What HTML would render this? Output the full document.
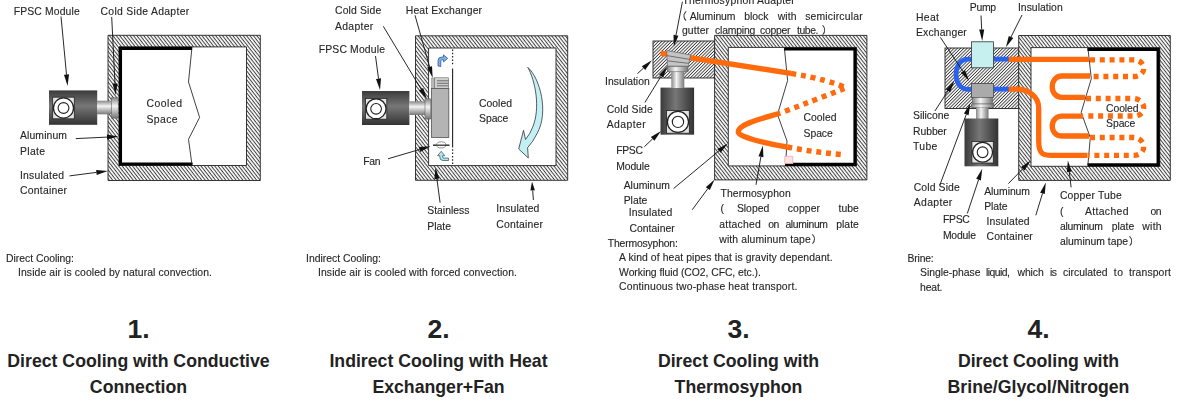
<!DOCTYPE html>
<html><head><meta charset="utf-8"><title>Cooling methods</title>
<style>
html,body{margin:0;padding:0;background:#fff;}
body{width:1200px;height:401px;overflow:hidden;position:relative;font-family:"Liberation Sans",sans-serif;}
svg{position:absolute;left:0;top:0;filter:blur(0.55px);}
.t{font-family:"Liberation Sans","IPAGothic",sans-serif;font-size:10.4px;fill:#262626;stroke:#262626;stroke-width:0.12px;}
.cap{position:absolute;width:300px;text-align:center;font-weight:bold;color:#222;font-size:17.7px;line-height:25.9px;}
.num{position:absolute;width:300px;text-align:center;font-weight:bold;color:#222;font-size:26.5px;line-height:28px;}
</style></head><body>
<svg id="dia" width="1200" height="401" viewBox="0 0 1200 401">
<defs>
<pattern id="h1" width="4" height="2.7" patternUnits="userSpaceOnUse" patternTransform="rotate(52)"><rect width="4" height="2.7" fill="#fff"/><rect width="4" height="1.02" fill="#404040"/></pattern>
<pattern id="h2" width="4" height="2.3" patternUnits="userSpaceOnUse" patternTransform="rotate(-45)"><rect width="4" height="2.3" fill="#fff"/><rect width="4" height="0.85" fill="#333"/></pattern>
<linearGradient id="gv" x1="0" y1="0" x2="0" y2="1"><stop offset="0" stop-color="#3a3a3a"/><stop offset="0.45" stop-color="#777"/><stop offset="1" stop-color="#333"/></linearGradient>
<linearGradient id="gh" x1="0" y1="0" x2="1" y2="0"><stop offset="0" stop-color="#3a3a3a"/><stop offset="0.45" stop-color="#777"/><stop offset="1" stop-color="#333"/></linearGradient>
<linearGradient id="cv" x1="0" y1="0" x2="0" y2="1"><stop offset="0" stop-color="#888"/><stop offset="0.4" stop-color="#f4f4f4"/><stop offset="1" stop-color="#777"/></linearGradient>
<linearGradient id="ch" x1="0" y1="0" x2="1" y2="0"><stop offset="0" stop-color="#888"/><stop offset="0.4" stop-color="#f4f4f4"/><stop offset="1" stop-color="#777"/></linearGradient>
</defs>

<g id="d1">
<path d="M108,35.3H260.3V180.5H108Z M119,46.9V165.5H246.5V46.9Z" fill="url(#h1)" fill-rule="evenodd" stroke="#222" stroke-width="0.9"/>
<path d="M192,48.4H120.5V164H192.5" fill="none" stroke="#000" stroke-width="3.1"/>
<polyline points="192,47 188.5,82 199.6,117.4 188.5,139.3 192,165" fill="none" stroke="#111" stroke-width="0.8"/>
<rect x="49" y="90.4" width="48.2" height="34.39999999999999" fill="url(#gv)"/>
<rect x="52.7" y="97.2" width="21.599999999999994" height="21.599999999999994" fill="#e4e4e4" stroke="#222" stroke-width="0.8"/>
<circle cx="63.5" cy="108.0" r="10.04" fill="#fff" stroke="#222" stroke-width="1.3"/>
<circle cx="63.5" cy="108.0" r="5.40" fill="#fff" stroke="#222" stroke-width="1.1"/>
<rect x="97" y="100.7" width="14.5" height="13.6" fill="url(#cv)"/>
<rect x="111.4" y="97.8" width="6.8" height="20.3" fill="url(#cv)" stroke="#555" stroke-width="0.5"/>
<text class="t" x="13.7" y="14.65" textLength="66">FPSC Module</text>
<text class="t" x="100.5" y="14.65" textLength="88.7">Cold Side Adapter</text>
<line x1="61" y1="16.5" x2="66.5" y2="74.6" stroke="#111" stroke-width="0.9"/>
<polygon points="67.6,86 64.0,74.8 69.0,74.3" fill="#111"/>
<line x1="111.7" y1="17" x2="115.0" y2="83.5" stroke="#111" stroke-width="0.9"/>
<polygon points="115.6,95 112.5,83.6 117.5,83.4" fill="#111"/>
<text class="t" x="20" y="138.95" textLength="47">Aluminum</text>
<text class="t" x="20" y="154.85" textLength="25">Plate</text>
<text class="t" x="20" y="178.85" textLength="44">Insulated</text>
<text class="t" x="20" y="194.35" textLength="47">Container</text>
<line x1="75.8" y1="138.6" x2="107.0" y2="137.1" stroke="#111" stroke-width="0.9"/>
<polygon points="118.5,136.5 107.1,139.6 106.9,134.6" fill="#111"/>
<line x1="69.5" y1="175.9" x2="96.4" y2="172.4" stroke="#111" stroke-width="0.9"/>
<polygon points="107.8,170.9 96.7,174.9 96.1,169.9" fill="#111"/>
<text class="t" x="146.5" y="107.35" textLength="35.5">Cooled</text>
<text class="t" x="146.5" y="123.35" textLength="31">Space</text>
<text class="t" x="6" y="261.85" textLength="68">Direct Cooling:</text>
<text class="t" x="18" y="276.35" textLength="194">Inside air is cooled by natural convection.</text>
</g>
<g id="d2">
<path d="M415.5,35.8H567.7V180.3H415.5Z M428.6,48V165.6H556V48Z" fill="url(#h1)" fill-rule="evenodd" stroke="#222" stroke-width="0.9"/>
<rect x="362" y="91" width="47.39999999999998" height="34" fill="url(#gv)"/>
<rect x="365.4" y="98.4" width="21.400000000000034" height="20.799999999999997" fill="#e4e4e4" stroke="#222" stroke-width="0.8"/>
<circle cx="376.1" cy="108.80000000000001" r="9.95" fill="#fff" stroke="#222" stroke-width="1.3"/>
<circle cx="376.1" cy="108.80000000000001" r="5.35" fill="#fff" stroke="#222" stroke-width="1.1"/>
<rect x="409.3" y="101.3" width="16" height="13.7" fill="url(#cv)"/>
<rect x="425" y="98.8" width="5.7" height="20.3" fill="url(#cv)" stroke="#555" stroke-width="0.5"/>
<rect x="431.6" y="78" width="3" height="10.5" fill="#b8b8b8" stroke="#666" stroke-width="0.4"/>
<rect x="434.5" y="77.8" width="14.2" height="10.7" fill="#cfcfcf" stroke="#555" stroke-width="0.5"/>
<line x1="437" y1="80.8" x2="448.5" y2="80.8" stroke="#444" stroke-width="0.7"/>
<line x1="437" y1="83.3" x2="448.5" y2="83.3" stroke="#444" stroke-width="0.7"/>
<line x1="437" y1="85.8" x2="448.5" y2="85.8" stroke="#444" stroke-width="0.7"/>
<rect x="431.5" y="88.5" width="17.3" height="49" fill="#b4b4b4" stroke="#555" stroke-width="0.8"/>
<line x1="452.6" y1="68.5" x2="452.6" y2="147.6" stroke="#222" stroke-width="1.1"/>
<line x1="452.6" y1="49.5" x2="452.6" y2="66" stroke="#222" stroke-width="1.2" stroke-dasharray="1.5,1.8"/>
<line x1="452.6" y1="149.3" x2="452.6" y2="164.5" stroke="#222" stroke-width="1.2" stroke-dasharray="1.5,1.8"/>
<path d="M433,145.2H449.5" stroke="#333" stroke-width="1.5" fill="none"/>
<ellipse cx="441.2" cy="144.9" rx="4.6" ry="3.1" fill="#fff" stroke="#666" stroke-width="0.7"/>
<path d="M436.5,145.2H446" stroke="#333" stroke-width="1.3" fill="none"/>
<path d="M438,66V60.5q0,-3.5 4,-3.5h1.5v-2.2l4.2,3.6l-4.2,3.6v-2.2h-1.3q-1.4,0 -1.4,1.4v5.3z" fill="#7ab0ee" stroke="#2a4a80" stroke-width="0.7"/>
<path d="M448.5,160.5h-5.5q-3.2,0 -3.2,-3.5v-1.3h-2.2l3.6,-4.4l3.6,4.4h-2.2v1.2q0,1.2 1.4,1.2h4.5z" fill="#b5e4ec" stroke="#2a5060" stroke-width="0.7"/>
<path d="M527.8,67.4 C540,78 549,112 537.2,133.3 Q533,142 527.6,147.7 L528.3,158 L518.7,149 L523.5,130.3 L525.5,139.5 Q530,134 532.4,127.8 C541,108 535,80 527.8,67.4 Z" fill="#c3f0f4" stroke="#333" stroke-width="0.8" stroke-linejoin="miter"/>
<text class="t" x="335" y="14.15" textLength="46.2">Cold Side</text>
<text class="t" x="335" y="29.65" textLength="38.3">Adapter</text>
<text class="t" x="405.8" y="14.15" textLength="76.2">Heat Exchanger</text>
<text class="t" x="318.7" y="52.65" textLength="66.3">FPSC Module</text>
<text class="t" x="363.3" y="164.65" textLength="17.3">Fan</text>
<text class="t" x="427.2" y="214.05" textLength="42.3">Stainless</text>
<text class="t" x="427.2" y="229.65" textLength="23.8">Plate</text>
<text class="t" x="496.3" y="212.15" textLength="43.1">Insulated</text>
<text class="t" x="496.3" y="227.85" textLength="46.7">Container</text>
<line x1="383.3" y1="26.3" x2="421.1" y2="89.1" stroke="#111" stroke-width="0.9"/>
<polygon points="427,99 418.9,90.4 423.2,87.9" fill="#111"/>
<line x1="415" y1="15.3" x2="429.6" y2="66.9" stroke="#111" stroke-width="0.9"/>
<polygon points="432.7,78 427.2,67.6 432.0,66.3" fill="#111"/>
<line x1="375.5" y1="56" x2="378.5" y2="78.6" stroke="#111" stroke-width="0.9"/>
<polygon points="380,90 376.0,78.9 381.0,78.3" fill="#111"/>
<line x1="388" y1="158.8" x2="419.5" y2="149.5" stroke="#111" stroke-width="0.9"/>
<polygon points="430.5,146.3 420.2,151.9 418.8,147.1" fill="#111"/>
<line x1="440.1" y1="202.7" x2="436.9" y2="178.9" stroke="#111" stroke-width="0.9"/>
<polygon points="435.4,167.5 439.4,178.6 434.4,179.2" fill="#111"/>
<line x1="533.4" y1="200" x2="532.7" y2="190.5" stroke="#111" stroke-width="0.9"/>
<polygon points="532,181.5 534.9,190.3 530.4,190.6" fill="#111"/>
<text class="t" x="479" y="106.65" textLength="33">Cooled</text>
<text class="t" x="479" y="122.35" textLength="29.3">Space</text>
<text class="t" x="306" y="261.85" textLength="75">Indirect Cooling:</text>
<text class="t" x="318" y="276.35" textLength="199">Inside air is cooled with forced convection.</text>
</g>
<g id="d3">
<rect x="653" y="41" width="62" height="37" fill="url(#h2)" stroke="#222" stroke-width="0.9"/>
<path d="M714.6,35.4H866.9V179.9H714.6Z M728.3,47.4V165.9H856.6V47.4Z" fill="url(#h1)" fill-rule="evenodd" stroke="#222" stroke-width="0.9"/>
<path d="M784,49H855V164.3H785" fill="none" stroke="#000" stroke-width="3.2"/>
<polyline points="784.4,48 787.6,80.5 777.5,114.5 787,141 785.6,165" fill="none" stroke="#111" stroke-width="0.8"/>
<rect x="784.8" y="156.3" width="8" height="7.3" fill="#fbe3e3" stroke="#efb0b0" stroke-width="0.8"/>
<path d="M660.6,53.2L791,73.4" fill="none" stroke="#ff6a0d" stroke-width="5.4"/>
<path d="M791,73.4Q830,80 846,88Q815,100 777.5,114" fill="none" stroke="#ff6a0d" stroke-width="5.4" stroke-dasharray="5,4.8"/>
<path d="M777.5,114C760,119 738.3,124.3 738.3,132C738.3,137.3 765,143 787.3,147" fill="none" stroke="#ff6a0d" stroke-width="5.4"/>
<path d="M787.3,147Q815,152.3 844,154.8" fill="none" stroke="#ff6a0d" stroke-width="5.4" stroke-dasharray="5,4.8"/>
<rect x="660.5" y="87.6" width="33.60000000000002" height="47.099999999999994" fill="url(#gh)"/>
<rect x="666.6" y="110.6" width="22.699999999999932" height="22.599999999999994" fill="#e4e4e4" stroke="#222" stroke-width="0.8"/>
<circle cx="677.95" cy="121.89999999999999" r="10.56" fill="#fff" stroke="#222" stroke-width="1.3"/>
<circle cx="677.95" cy="121.89999999999999" r="5.67" fill="#fff" stroke="#222" stroke-width="1.1"/>
<rect x="671.3" y="71" width="13" height="17" fill="url(#ch)"/>
<rect x="667.4" y="66.2" width="20.6" height="5.6" fill="url(#ch)" stroke="#555" stroke-width="0.5"/>
<polygon points="666.8,50.6 690.5,54.9 688.3,66.2 667.4,66.2" fill="#c4c4c4" stroke="#555" stroke-width="0.6"/>
<path d="M666.9,55.6L689.8,59.4 M667.1,60.8L689,63.4" stroke="#666" stroke-width="0.9" fill="none"/>
<text class="t" x="682.4" y="4.05" textLength="112.4">Thermosyphon Adapter</text>
<text class="t" x="676.7" y="19.65">（</text>
<text class="t" x="689.7" y="19.65" textLength="45.8">Aluminum</text>
<text class="t" x="744.3" y="19.65" textLength="24.2">block</text>
<text class="t" x="777.7" y="19.65" textLength="18.9">with</text>
<text class="t" x="805.2" y="19.65" textLength="57.4">semicircular</text>
<text class="t" x="682" y="34.25" textLength="27">gutter</text>
<text class="t" x="715" y="34.25" textLength="40.3">clamping</text>
<text class="t" x="760" y="34.25" textLength="30.5">copper</text>
<text class="t" x="797" y="34.25" textLength="21.5">tube.</text>
<text class="t" x="821.5" y="34.25">）</text>
<text class="t" x="605" y="85.25" textLength="44.8">Insulation</text>
<text class="t" x="606.7" y="113.35" textLength="46.1">Cold Side</text>
<text class="t" x="606.7" y="127.85" textLength="38.9">Adapter</text>
<text class="t" x="616.2" y="153.75" textLength="26.7">FPSC</text>
<text class="t" x="616.2" y="169.75" textLength="33.6">Module</text>
<text class="t" x="623.7" y="188.95" textLength="46.1">Aluminum</text>
<text class="t" x="623.7" y="203.95" textLength="23.6">Plate</text>
<text class="t" x="628.7" y="215.85" textLength="43.6">Insulated</text>
<text class="t" x="629.4" y="231.85" textLength="45.4">Container</text>
<text class="t" x="607.8" y="246.65" textLength="70">Thermosyphon:</text>
<text class="t" x="619.1" y="261.25" textLength="213.5">A kind of heat pipes that is gravity dependant.</text>
<text class="t" x="619.1" y="275.65" textLength="141.7">Working fluid (CO2, CFC, etc.).</text>
<text class="t" x="619.1" y="290.35" textLength="178.2">Continuous two-phase heat transport.</text>
<text class="t" x="720.5" y="196.85" textLength="70.2">Thermosyphon</text>
<text class="t" x="720.5" y="212.35" textLength="3.5">(</text>
<text class="t" x="736.9" y="212.35" textLength="32.3">Sloped</text>
<text class="t" x="787.7" y="212.35" textLength="32.3">copper</text>
<text class="t" x="838.6" y="212.35" textLength="20.3">tube</text>
<text class="t" x="719.3" y="227.55" textLength="41.5">attached</text>
<text class="t" x="768.3" y="227.55" textLength="11.1">on</text>
<text class="t" x="785.4" y="227.55" textLength="42.6">aluminum</text>
<text class="t" x="836.2" y="227.55" textLength="22.7">plate</text>
<text class="t" x="719.3" y="242.65" textLength="91.5">with aluminum tape</text>
<text class="t" x="811.3" y="242.65">）</text>
<line x1="682.4" y1="1.8" x2="676.0" y2="35.2" stroke="#111" stroke-width="0.9"/>
<polygon points="673.8,46.5 673.5,34.7 678.4,35.7" fill="#111"/>
<line x1="637.4" y1="73.7" x2="643.5" y2="68.1" stroke="#111" stroke-width="0.9"/>
<polygon points="652,60.3 645.2,69.9 641.8,66.2" fill="#111"/>
<line x1="644.9" y1="102.4" x2="661.2" y2="76.0" stroke="#111" stroke-width="0.9"/>
<polygon points="667.3,66.2 663.4,77.3 659.1,74.7" fill="#111"/>
<line x1="644.4" y1="146.7" x2="652.6" y2="138.9" stroke="#111" stroke-width="0.9"/>
<polygon points="661,131 654.4,140.7 650.9,137.1" fill="#111"/>
<line x1="673.5" y1="188.6" x2="719.0" y2="150.8" stroke="#111" stroke-width="0.9"/>
<polygon points="727.8,143.5 720.6,152.8 717.4,148.9" fill="#111"/>
<line x1="692.2" y1="209.8" x2="707.8" y2="188.7" stroke="#111" stroke-width="0.9"/>
<polygon points="714.6,179.4 709.8,190.1 705.8,187.2" fill="#111"/>
<line x1="756" y1="184.8" x2="760.9" y2="156.7" stroke="#111" stroke-width="0.9"/>
<polygon points="762.9,145.4 763.4,157.2 758.5,156.3" fill="#111"/>
<text class="t" x="803.5" y="121.35" textLength="33">Cooled</text>
<text class="t" x="803.5" y="137.05" textLength="29.3">Space</text>
</g>
<g id="d4">
<rect x="945" y="48" width="74" height="60.5" fill="url(#h2)" stroke="#222" stroke-width="0.9"/>
<path d="M1018.7,35.5H1170.3V180.4H1018.7Z M1031,47.6V166.3H1159.8V47.6Z" fill="url(#h1)" fill-rule="evenodd" stroke="#222" stroke-width="0.9"/>
<path d="M1087.5,49.3H1158.2V164.8H1087.5" fill="none" stroke="#000" stroke-width="3.3"/>
<polyline points="1087.9,48 1091.3,78.7 1081.2,112.4 1090.3,137.6 1087.9,165" fill="none" stroke="#111" stroke-width="0.8"/>
<path d="M971.5,59.2H968C952,59.2 952,89.3 968,89.3H971.5" fill="none" stroke="#2a62f0" stroke-width="4.7"/>
<path d="M993.4,59.2H1009 M993.4,89.2H1009" fill="none" stroke="#2a62f0" stroke-width="4.7"/>
<path d="M1008.7,59.4H1089" fill="none" stroke="#ff6a0d" stroke-width="5.3"/>
<path d="M1008.7,89.2H1016C1028,89.2 1038.7,96 1038.7,108V141C1038.7,155.3 1044,155.3 1052,155.3H1087.5" fill="none" stroke="#ff6a0d" stroke-width="5.3"/>
<path d="M1090,76H1062C1049,76 1049,97.3 1062,97.3H1085" fill="none" stroke="#ff6a0d" stroke-width="5.3"/>
<path d="M1083,116.2H1062C1049,116.2 1049,136 1062,136H1089" fill="none" stroke="#ff6a0d" stroke-width="5.3"/>
<path d="M1090,59.8H1134C1147,60.5 1147,76.5 1134,76.5H1091" fill="none" stroke="#ff6a0d" stroke-width="5.3" stroke-dasharray="5,4.8"/>
<path d="M1086,98.5H1134C1147,99.8 1147,116 1134,116H1084" fill="none" stroke="#ff6a0d" stroke-width="5.3" stroke-dasharray="5,4.8"/>
<path d="M1090,137.5H1134C1147,138.6 1147,155.3 1134,155.3H1088" fill="none" stroke="#ff6a0d" stroke-width="5.3" stroke-dasharray="5,4.8"/>
<rect x="971.5" y="41.8" width="22" height="26" fill="#c6f0f0" stroke="#333" stroke-width="0.8"/>
<rect x="971.5" y="83.5" width="22" height="14" fill="#aaa" stroke="#444" stroke-width="0.8"/>
<rect x="972.5" y="97.5" width="20" height="6.5" fill="url(#ch)" stroke="#555" stroke-width="0.5"/>
<rect x="971.5" y="104" width="22.5" height="3.5" fill="url(#ch)" stroke="#555" stroke-width="0.5"/>
<rect x="976" y="107.5" width="12.5" height="11.5" fill="url(#ch)"/>
<rect x="964.5" y="118.5" width="33.799999999999955" height="47.80000000000001" fill="url(#gh)"/>
<rect x="971.9" y="141.5" width="21.399999999999977" height="21.5" fill="#e4e4e4" stroke="#222" stroke-width="0.8"/>
<circle cx="982.5999999999999" cy="152.25" r="9.95" fill="#fff" stroke="#222" stroke-width="1.3"/>
<circle cx="982.5999999999999" cy="152.25" r="5.35" fill="#fff" stroke="#222" stroke-width="1.1"/>
<text class="t" x="969.8" y="10.55" textLength="26.2">Pump</text>
<text class="t" x="1017.9" y="10.55" textLength="44.8">Insulation</text>
<text class="t" x="916" y="21.05" textLength="23">Heat</text>
<text class="t" x="916" y="35.95" textLength="50.8">Exchanger</text>
<text class="t" x="913" y="119.35" textLength="36.3">Silicone</text>
<text class="t" x="913" y="134.65" textLength="33.8">Rubber</text>
<text class="t" x="913" y="150.05" textLength="24.4">Tube</text>
<text class="t" x="913.7" y="191.45" textLength="46.1">Cold Side</text>
<text class="t" x="913.7" y="205.85" textLength="38.6">Adapter</text>
<text class="t" x="984.2" y="195.25" textLength="45.8">Aluminum</text>
<text class="t" x="984.2" y="210.15" textLength="23.4">Plate</text>
<text class="t" x="942.9" y="223.35" textLength="26.9">FPSC</text>
<text class="t" x="942.9" y="238.85" textLength="33.1">Module</text>
<text class="t" x="986.5" y="224.65" textLength="43.1">Insulated</text>
<text class="t" x="986.5" y="240.05" textLength="46.3">Container</text>
<text class="t" x="1059.9" y="199.45" textLength="61.8">Copper Tube</text>
<text class="t" x="1060" y="215.15" textLength="3.5">(</text>
<text class="t" x="1084.9" y="215.15" textLength="43.6">Attached</text>
<text class="t" x="1150.4" y="215.15" textLength="11.2">on</text>
<text class="t" x="1060" y="230.05" textLength="43">aluminum</text>
<text class="t" x="1111.8" y="230.05" textLength="22.4">plate</text>
<text class="t" x="1142.2" y="230.05" textLength="19.4">with</text>
<text class="t" x="1060" y="245.05" textLength="68">aluminum tape</text>
<text class="t" x="1128.6" y="245.05">）</text>
<text class="t" x="907.5" y="262.10" textLength="26.2">Brine:</text>
<text class="t" x="920" y="276.35" textLength="60.5">Single-phase</text>
<text class="t" x="986" y="276.35" textLength="24">liquid,</text>
<text class="t" x="1017.5" y="276.35" textLength="26.2">which</text>
<text class="t" x="1050" y="276.35" textLength="7">is</text>
<text class="t" x="1063" y="276.35" textLength="44.5">circulated</text>
<text class="t" x="1113.75" y="276.35" textLength="9.2">to</text>
<text class="t" x="1129" y="276.35" textLength="42">transport</text>
<text class="t" x="920" y="291.10" textLength="22.5">heat.</text>
<line x1="981" y1="15.5" x2="981.7" y2="29.5" stroke="#111" stroke-width="0.9"/>
<polygon points="982.2,41 979.2,29.6 984.2,29.4" fill="#111"/>
<line x1="1022" y1="15" x2="1011.0" y2="37.0" stroke="#111" stroke-width="0.9"/>
<polygon points="1005.9,47.3 1008.8,35.9 1013.3,38.1" fill="#111"/>
<line x1="940.4" y1="37.4" x2="962.9" y2="71.4" stroke="#111" stroke-width="0.9"/>
<polygon points="969.3,81 960.9,72.8 965.0,70.0" fill="#111"/>
<line x1="934.9" y1="111" x2="948.0" y2="90.8" stroke="#111" stroke-width="0.9"/>
<polygon points="954.3,81.2 950.1,92.2 945.9,89.5" fill="#111"/>
<line x1="939.9" y1="184.9" x2="966.3" y2="114.4" stroke="#111" stroke-width="0.9"/>
<polygon points="970.3,103.6 968.6,115.2 963.9,113.5" fill="#111"/>
<line x1="967.3" y1="213.5" x2="978.6" y2="179.6" stroke="#111" stroke-width="0.9"/>
<polygon points="982.2,168.7 980.9,180.4 976.2,178.8" fill="#111"/>
<line x1="1008.4" y1="183.6" x2="1022.8" y2="168.8" stroke="#111" stroke-width="0.9"/>
<polygon points="1030.8,160.5 1024.6,170.5 1021.0,167.0" fill="#111"/>
<line x1="1035.8" y1="215.3" x2="1042.5" y2="193.4" stroke="#111" stroke-width="0.9"/>
<polygon points="1045.8,182.4 1044.8,194.1 1040.1,192.7" fill="#111"/>
<line x1="1071.1" y1="187.4" x2="1069.3" y2="171.9" stroke="#111" stroke-width="0.9"/>
<polygon points="1067.9,160.5 1071.7,171.6 1066.8,172.2" fill="#111"/>
<text class="t" x="1106" y="112.35" textLength="32.6">Cooled</text>
<text class="t" x="1106" y="127.35" textLength="29.3">Space</text>
</g>
</svg>
<div class="num" style="left:-11.5px;top:315.2px;">1.</div>
<div class="cap" style="left:-11.5px;top:348.9px;">Direct Cooling with Conductive<br>Connection</div>
<div class="num" style="left:288.5px;top:315.2px;">2.</div>
<div class="cap" style="left:288.5px;top:348.9px;">Indirect Cooling with Heat<br>Exchanger+Fan</div>
<div class="num" style="left:588.5px;top:315.2px;">3.</div>
<div class="cap" style="left:588.5px;top:348.9px;">Direct Cooling with<br>Thermosyphon</div>
<div class="num" style="left:888.5px;top:315.2px;">4.</div>
<div class="cap" style="left:888.5px;top:348.9px;">Direct Cooling with<br>Brine/Glycol/Nitrogen</div>
</body></html>
